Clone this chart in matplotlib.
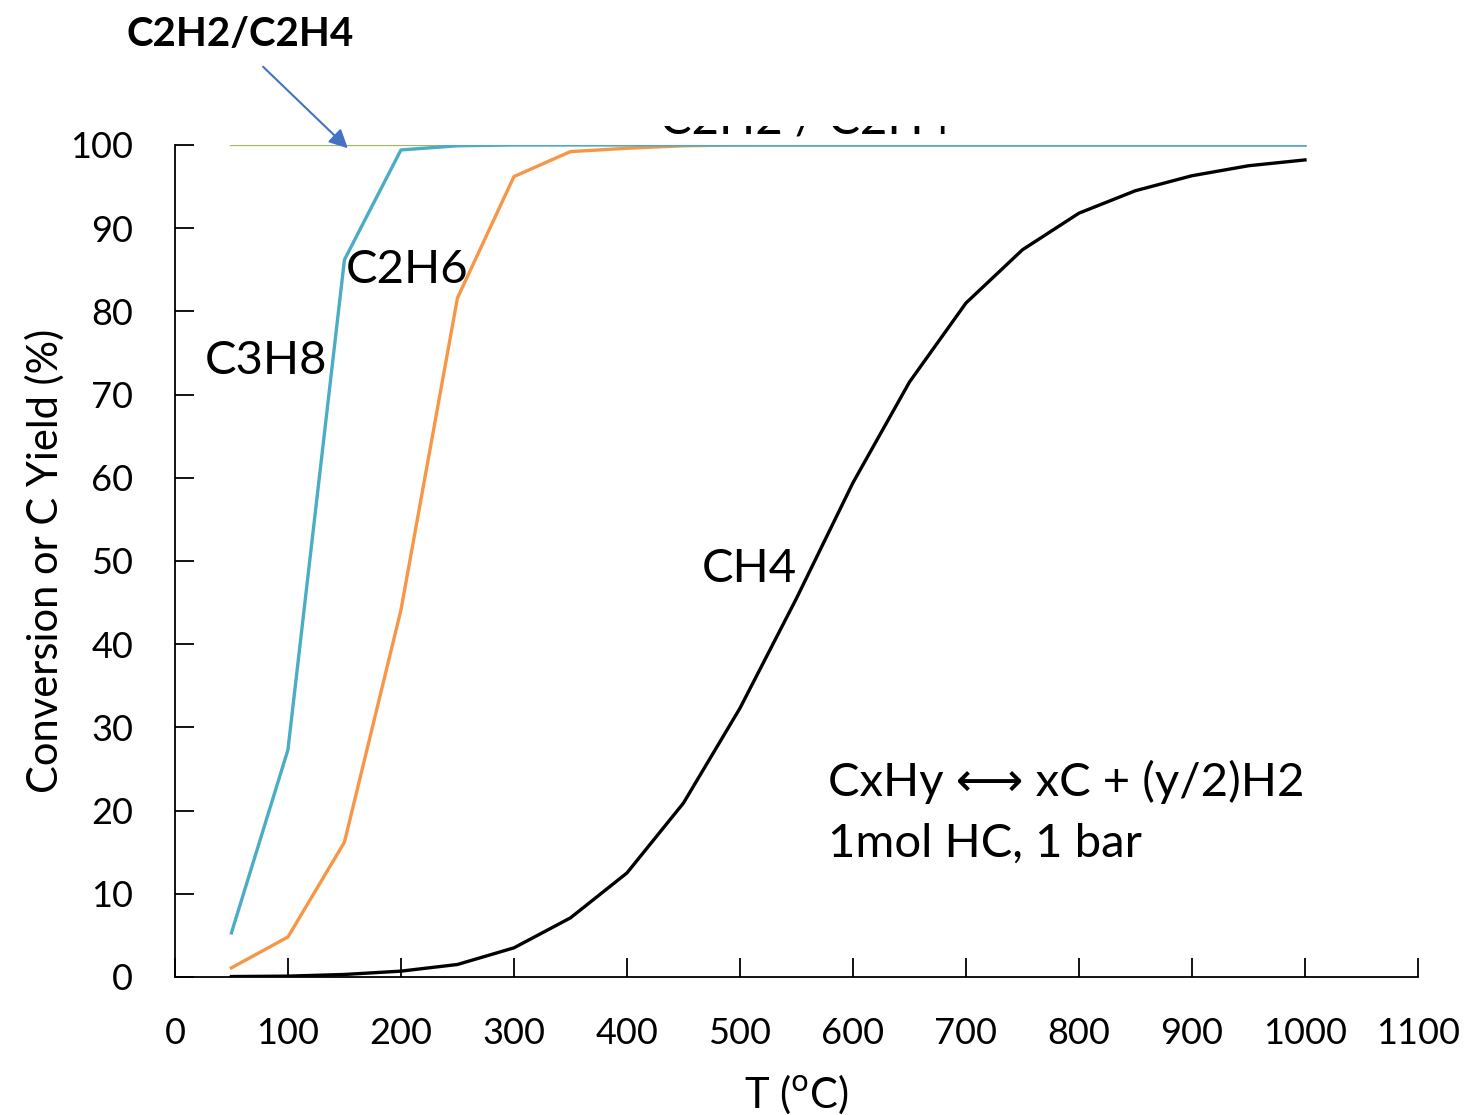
"""
Equilibrium conversion / C yield of hydrocarbon cracking vs temperature.
"""

import matplotlib.pyplot as plt
from matplotlib.transforms import Bbox

plt.rcParams['font.family'] = ['Lato', 'DejaVu Sans']

temps = [50, 100, 150, 200, 250, 300, 350, 400, 450, 500, 550, 600, 650, 700,
         750, 800, 850, 900, 950, 1000]
c2h2_c2h4 = [100] * 20
c3h8 = [5.3, 27.3, 86.2, 99.4, 99.9, 100, 100, 100, 100, 100, 100, 100, 100,
        100, 100, 100, 100, 100, 100, 100]
c2h6 = [1.1, 4.8, 16.2, 44.1, 81.6, 96.2, 99.2, 99.6, 99.9, 100, 100, 100,
        100, 100, 100, 100, 100, 100, 100, 100]
ch4 = [0.05, 0.1, 0.3, 0.7, 1.5, 3.5, 7.1, 12.5, 20.9, 32.3, 45.5, 59.4, 71.5,
       81.0, 87.4, 91.8, 94.5, 96.3, 97.5, 98.2]

x_ticks = [0, 100, 200, 300, 400, 500, 600, 700, 800, 900, 1000, 1100]
y_ticks = [0, 10, 20, 30, 40, 50, 60, 70, 80, 90, 100]


def make_plot():
    fig = plt.figure(figsize=(14.7, 11.15), dpi=100)
    ax = fig.add_axes([0.119, 0.1238, 0.8456, 0.7462])

    ax.plot(temps, c2h2_c2h4, color='#9bbb59', lw=1.6)
    ax.plot(temps, c2h6, color='#f79646', lw=2.4)
    ax.plot(temps, c3h8, color='#4bacc6', lw=2.4)
    ax.plot(temps, ch4, color='black', lw=2.4)

    ax.set_xlim(0, 1100)
    ax.set_ylim(0, 100)
    ax.set_xticks(x_ticks)
    ax.set_yticks(y_ticks)
    ax.spines['top'].set_visible(False)
    ax.spines['right'].set_visible(False)
    ax.tick_params(direction='in', length=14, width=1.3, labelsize=26)
    ax.tick_params(axis='x', pad=29)
    ax.tick_params(axis='y', pad=30)
    for s in ('left', 'bottom'):
        ax.spines[s].set_linewidth(1.3)

    ax.set_xlabel('T ($^{\\mathrm{o}}$C)', fontsize=30, labelpad=16)
    ax.set_ylabel('Conversion or C Yield (%)', fontsize=30, labelpad=4)

    # curve labels
    ax.text(151, 85, 'C2H6', fontsize=34, ha='left', va='center')
    ax.text(26, 74, 'C3H8', fontsize=34, ha='left', va='center')
    ax.text(466, 49, 'CH4', fontsize=34, ha='left', va='center')

    ax.text(578, 23.5, 'CxHy \u27f7 xC + (y/2)H2', fontsize=34,
            ha='left', va='center')
    ax.text(578, 16, '1mol HC, 1 bar', fontsize=34, ha='left', va='center')

    # label partly hidden above the plot area
    hidden = ax.text(429, 101.4, 'C2H2 / C2H4', fontsize=34, ha='left',
                     va='baseline', clip_on=True)
    hidden.set_clip_box(Bbox([[0, 1115 - 140], [1470, 1115 - 126]]))

    ax.text(58, 113.3, 'C2H2/C2H4', fontsize=29, fontweight='bold',
            ha='center', va='center', clip_on=False)
    ax.annotate('', xy=(153, 99.6), xytext=(78, 109.4),
                textcoords='data', annotation_clip=False,
                arrowprops=dict(arrowstyle='-|>', color='#4472c4', lw=1.5,
                                mutation_scale=28, shrinkA=0, shrinkB=0))

    fig.savefig('out.png', dpi=100)


if __name__ == '__main__':
    make_plot()
